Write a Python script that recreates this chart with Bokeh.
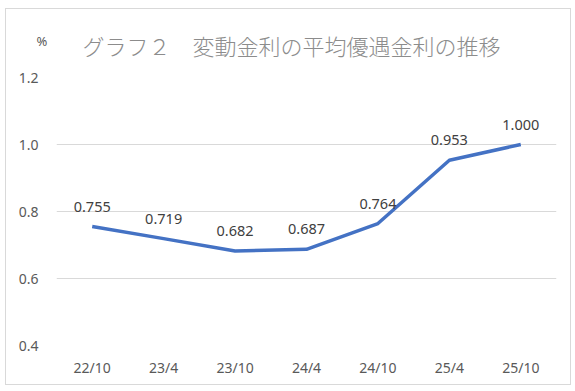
from bokeh.plotting import figure
from bokeh.models import ColumnDataSource, Label, Range1d, FixedTicker, LabelSet, CustomJSTickFormatter
from bokeh.core.properties import value
from bokeh.embed import file_html
from bokeh.resources import INLINE

categories = ["22/10", "23/4", "23/10", "24/4", "24/10", "25/4", "25/10"]
rates = [0.755, 0.719, 0.682, 0.687, 0.764, 0.953, 1.000]
rate_labels = ["0.755", "0.719", "0.682", "0.687", "0.764", "0.953", "1.000"]
y_ticks = [0.4, 0.6, 0.8, 1.0, 1.2]
title_text = "グラフ２　変動金利の平均優遇金利の推移"
unit_text = "%"

src = ColumnDataSource(dict(x=categories, y=rates, lab=rate_labels))

p = figure(x_range=categories, y_range=Range1d(0.4, 1.2),
           width=566, height=377, output_backend="svg", toolbar_location=None,
           min_border_left=50, min_border_right=16, min_border_top=68, min_border_bottom=41,
           styles={"border": "1px solid #d9d9d9", "margin-left": "5px", "margin-top": "8px"})

p.title.text = title_text
p.title.align = "left"
p.title.offset = 26
p.title.standoff = 34
p.title.text_font = "Noto Sans CJK JP Light, Noto Sans CJK JP DemiLight, Noto Sans CJK JP"
p.title.text_font_size = "22px"
p.title.text_font_style = "normal"
p.title.text_color = "#8c8c8c"

p.line("x", "y", source=src, line_color="#4472C4", line_width=3.5, line_join="round")

labels = LabelSet(x="x", y="y", text="lab", source=src, text_align="center",
                  text_baseline="middle", y_offset=20, text_font_size="14.5px",
                  text_color="#404040", text_font=value("Noto Sans"))
p.add_layout(labels)

p.outline_line_color = None
p.xgrid.grid_line_color = None
p.ygrid.grid_line_color = "#d9d9d9"
p.ygrid.grid_line_width = 1

p.yaxis.ticker = FixedTicker(ticks=y_ticks)
p.yaxis.formatter = CustomJSTickFormatter(code="return tick.toFixed(1);")
for ax in (p.xaxis, p.yaxis):
    ax.axis_line_color = None
    ax.major_tick_line_color = None
    ax.minor_tick_line_color = None
    ax.major_label_text_font_size = "14px"
    ax.major_label_text_color = "#595959"
    ax.major_label_text_font = "Noto Sans"
p.yaxis.major_label_standoff = 12
p.xaxis.major_label_standoff = 6

p.add_layout(Label(x=29, y=30, x_units="canvas", y_units="canvas", text=unit_text,
                   text_font_size="13px", text_color="#595959", text_font="Noto Sans",
                   text_baseline="middle"), "right")

open("out.html", "w").write(file_html(p, INLINE))
